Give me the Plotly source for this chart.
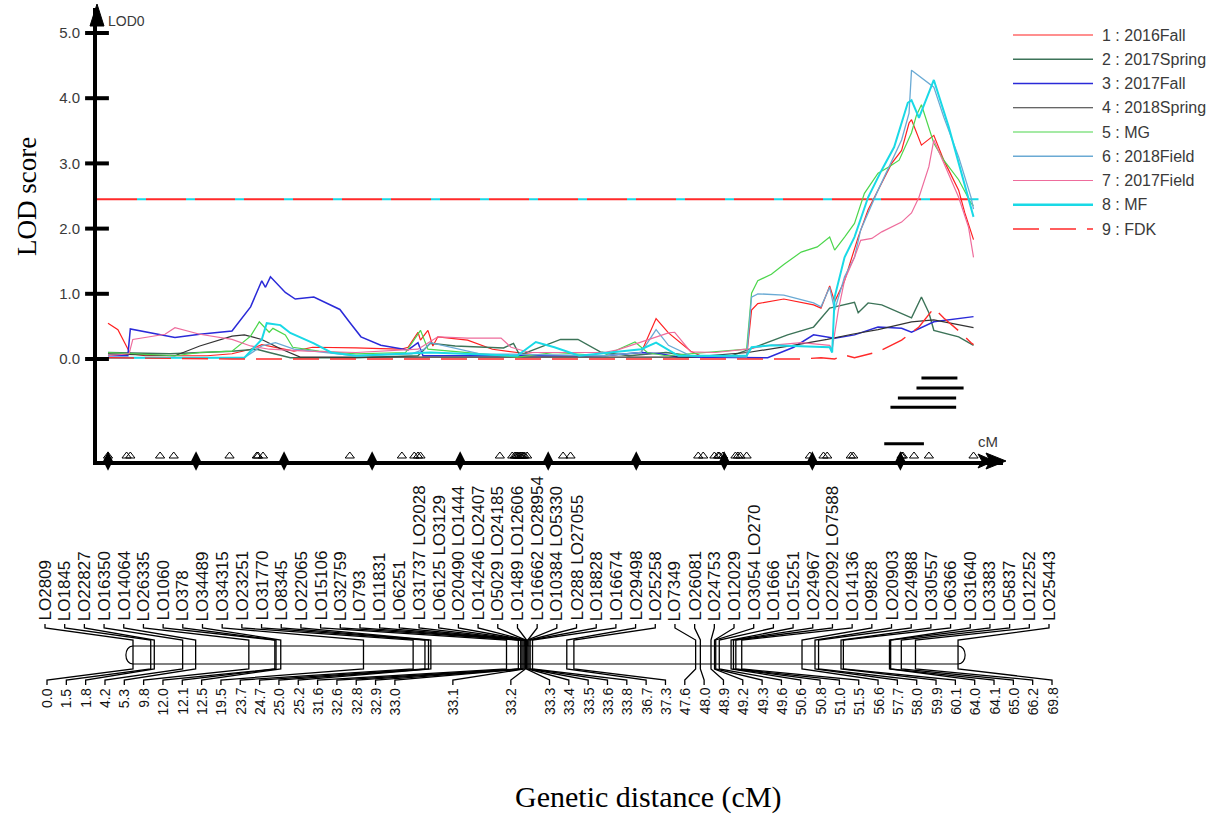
import numpy as np
import plotly.graph_objects as go

W, H = 1227, 816

# ---------------- data ----------------
S1_CM = [0, 0.8, 1.8, 3.0, 5.0, 8.0, 10.0, 11.5, 12.4, 13.5, 15.0, 16.5, 18.0, 20.0, 22.0, 23.6, 24.2, 25.0, 25.2, 25.8,
         26.2, 26.6, 29.0, 31.0, 33.0, 35.0, 40.0, 43.0, 44.2, 45.2, 47.0, 48.0, 51.5, 51.9, 52.4, 54.5, 56.9, 57.5, 58.2, 58.6,
         59.4, 60.5, 61.3, 62.4, 63.2, 64.0, 64.6, 64.8, 65.6, 66.6, 67.4, 68.6, 69.1, 69.8]
S1_LOD = [0.55, 0.45, 0.08, 0.05, 0.05, 0.05, 0.08, 0.15, 0.22, 0.18, 0.12, 0.18, 0.18, 0.17, 0.16, 0.15, 0.18, 0.41, 0.29, 0.44,
          0.2, 0.34, 0.29, 0.15, 0.1, 0.05, 0.05, 0.1, 0.62, 0.4, 0.12, 0.03, 0.03, 0.75, 0.85, 0.92, 0.83, 0.78, 1.12, 0.88,
          1.2, 1.87, 2.29, 2.70, 3.0, 3.2, 3.62, 3.67, 3.28, 3.43, 3.05, 2.59, 2.24, 1.83]

S2_CM = [0, 5, 10, 12, 13, 14.7, 20, 25, 26, 28, 31.9, 32.7, 33.2, 35.7, 36.5, 37.9, 39.7, 42, 45, 47,
         50, 51.6, 54.8, 56.9, 58.2, 60.2, 60.5, 61.3, 62.4, 64.8, 65.6, 66.2, 66.6, 68.6, 69.8]
S2_LOD = [0.1, 0.08, 0.12, 0.15, 0.1, 0.02, 0.02, 0.05, 0.24, 0.2, 0.17, 0.24, 0.06, 0.24, 0.3, 0.3, 0.11, 0.05, 0.1, 0.05,
          0.03, 0.14, 0.37, 0.49, 0.78, 0.87, 0.71, 0.86, 0.83, 0.63, 0.95, 0.71, 0.44, 0.34, 0.21]

S3_CM = [0, 1.6, 1.8, 3.0, 4.6, 5.4, 7.4, 10.0, 11.5, 12.4, 12.7, 13.1, 14.3, 15.1, 16.6, 18.7, 19.5, 20.4, 22.0, 24.2,
         25.0, 25.4, 30, 40, 43, 44.5, 46, 53.2, 55.3, 56.9, 58.6, 60.2, 62.1, 64.0, 64.8, 66.6, 69.8]
S3_LOD = [0.05, 0.05, 0.46, 0.42, 0.36, 0.33, 0.38, 0.43, 0.8, 1.2, 1.1, 1.26, 1.02, 0.92, 0.95, 0.76, 0.56, 0.34, 0.21, 0.14,
          0.25, 0.05, 0.05, 0.05, 0.1, 0.08, 0.03, 0.02, 0.18, 0.37, 0.32, 0.37, 0.49, 0.47, 0.41, 0.57, 0.65]

S4_CM = [0, 5.4, 7.4, 10.0, 11.0, 12.4, 14.0, 15.5, 25, 30, 40, 47, 51.6, 55, 58, 60, 62.1, 64.8, 66.6, 67.4, 69.6, 69.8]
S4_LOD = [0.08, 0.05, 0.2, 0.35, 0.37, 0.3, 0.15, 0.03, 0.03, 0.03, 0.03, 0.03, 0.1, 0.2, 0.3, 0.38, 0.45, 0.57, 0.6, 0.57, 0.49, 0.48]

S5_CM = [0, 2, 5.4, 7.4, 10, 11.5, 12.2, 13.0, 13.3, 14.3, 14.9, 17, 20, 24, 25.2, 25.8, 30, 33, 36, 40,
         42.5, 43.5, 45, 51.5, 51.9, 52.4, 53.5, 54.5, 55.9, 57.2, 58.2, 58.6, 59.4, 60.2, 61.0, 62.1, 63.0, 63.8, 64.8, 65.2,
         65.6, 66.6, 67.4, 68.6, 69.6, 69.8]
S5_LOD = [0.1, 0.08, 0.05, 0.1, 0.12, 0.35, 0.57, 0.41, 0.47, 0.37, 0.18, 0.12, 0.08, 0.1, 0.44, 0.15, 0.08, 0.03, 0.1, 0.05,
          0.26, 0.1, 0.05, 0.15, 1.01, 1.2, 1.3, 1.45, 1.64, 1.72, 1.87, 1.67, 1.87, 2.08, 2.54, 2.85, 2.95, 3.05, 3.47, 3.74,
          3.90, 3.31, 3.05, 2.75, 2.39, 2.35]

S6_CM = [0, 11, 12.4, 13.5, 15, 20, 24.5, 25.5, 26, 30, 40, 43, 44.2, 45.2, 47, 51.5, 51.9, 52.4, 54.5, 56.9,
         57.5, 58.2, 58.6, 59.4, 60.2, 60.7, 62.1, 63.2, 64.0, 64.6, 64.8, 66.6, 67.4, 68.6, 69.6, 69.8]
S6_LOD = [0.02, 0.02, 0.2, 0.25, 0.15, 0.05, 0.08, 0.15, 0.25, 0.08, 0.05, 0.1, 0.45, 0.21, 0.05, 0.03, 0.95, 1.0, 0.98, 0.86,
          0.8, 1.1, 0.75, 1.26, 1.56, 1.98, 2.59, 3.05, 3.36, 3.77, 4.43, 4.17, 3.71, 3.10, 2.48, 2.3]

S7_CM = [0, 1.7, 2.0, 4.6, 5.4, 7.4, 10, 11.5, 13, 16, 20, 25, 26.6, 29, 31.7, 32.5, 34, 40, 41.1, 43,
         45.2, 45.7, 47, 49, 51.5, 53, 55.9, 58.2, 58.4, 58.9, 59.4, 60.2, 60.7, 61.6, 62.4, 64.0, 64.8, 65.4, 66.2, 66.6,
         67.4, 68.6, 69.4, 69.8]
S7_LOD = [0.05, 0.08, 0.3, 0.38, 0.48, 0.38, 0.3, 0.2, 0.15, 0.12, 0.1, 0.15, 0.34, 0.32, 0.32, 0.18, 0.1, 0.1, 0.14, 0.26,
          0.4, 0.41, 0.11, 0.1, 0.15, 0.2, 0.25, 0.21, 0.15, 0.75, 1.21, 1.56, 1.82, 1.85, 1.95, 2.1, 2.24, 2.48, 2.95, 3.36,
          3.0, 2.48, 2.02, 1.56]

S8_CM = [0, 11, 12.4, 12.8, 13.9, 14.7, 16.6, 18, 20, 26, 33, 34.5, 36, 38, 43, 44.2, 46, 51.5, 51.9, 53.5,
         58.2, 58.4, 58.6, 59.4, 60.2, 61.3, 62.4, 63.4, 64.5, 64.8, 65.4, 66.6, 67.8, 68.8, 69.8]
S8_LOD = [0.02, 0.02, 0.3, 0.55, 0.52, 0.40, 0.24, 0.1, 0.05, 0.1, 0.05, 0.26, 0.18, 0.05, 0.15, 0.25, 0.05, 0.05, 0.18, 0.21,
          0.18, 0.1, 0.95, 1.56, 1.87, 2.48, 2.9, 3.25, 3.93, 3.97, 3.70, 4.28, 3.56, 2.85, 2.18]

S9_CM = [0, 10, 20, 30, 40, 50, 55.9, 57.5, 58.6, 59.4, 60.2, 62.1, 64.0, 65.4, 66.6, 67.4, 68.8, 69.6, 69.8]
S9_LOD = [0.02, 0.0, 0.0, 0.0, 0.0, 0.0, 0.0, 0.02, 0.0, 0.06, 0.02, 0.11, 0.29, 0.49, 0.78, 0.63, 0.40, 0.25, 0.22]

SERIES_NAMES = ["1 : 2016Fall", "2 : 2017Spring", "3 : 2017Fall", "4 : 2018Spring", "5 : MG",
                "6 : 2018Field", "7 : 2017Field", "8 : MF", "9 : FDK"]

THRESHOLD = 2.45
CI_START = [65.6, 65.2, 63.7, 63.1, 62.6]
CI_END = [68.5, 69.0, 68.4, 68.4, 65.8]

MARKER_NAMES = ["LO2809", "LO1845", "LO22827", "LO16350", "LO14064", "LO26335", "LO1060", "LO378", "LO34489",
                "LO34315", "LO23251", "LO31770", "LO8345", "LO22065", "LO15106", "LO32759", "LO793", "LO11831",
                "LO6251", "LO31737 LO2028", "LO6125 LO3129", "LO20490 LO1444", "LO14246 LO2407", "LO5029 LO24185",
                "LO1489 LO12606", "LO16662 LO28954", "LO10384 LO5330", "LO288 LO27055", "LO18828", "LO16674",
                "LO29498", "LO25258", "LO7349", "LO26081", "LO24753", "LO12029", "LO3054 LO270", "LO1666",
                "LO15251", "LO24967", "LO22092 LO7588", "LO14136", "LO9828", "LO20903", "LO24988", "LO30557",
                "LO6366", "LO31640", "LO3383", "LO5837", "LO12252", "LO25443"]
MARKER_CM = [0.0, 1.5, 1.8, 4.2, 5.3, 9.8, 12.0, 12.1, 12.5, 19.5, 23.7, 24.7, 25.0, 25.2, 31.6, 32.6, 32.8, 32.9,
             33.0, 33.1, 33.2, 33.2, 33.2, 33.2, 33.3, 33.4, 33.4, 33.5, 33.6, 33.8, 36.7, 37.3, 47.6, 48.0, 48.9,
             49.2, 49.3, 49.6, 50.6, 50.8, 51.0, 51.5, 56.6, 57.7, 58.0, 59.9, 60.1, 64.0, 64.1, 65.0, 66.2, 69.8]
POS_CM = [0.0, 1.5, 1.8, 4.2, 5.3, 9.8, 12.0, 12.1, 12.5, 19.5, 23.7, 24.7, 25.0, 25.2, 31.6, 32.6, 32.8, 32.9, 33.0,
          33.1, 33.2, 33.3, 33.4, 33.5, 33.6, 33.8, 36.7, 37.3, 47.6, 48.0, 48.9, 49.2, 49.3, 49.6, 50.6, 50.8, 51.0,
          51.5, 56.6, 57.7, 58.0, 59.9, 60.1, 64.0, 64.1, 65.0, 66.2, 69.8]

# ---------------- styles / layout constants ----------------
COLORS = ["#ff2020", "#3c7358", "#2a2ad8", "#333333", "#4cd64c", "#6aaad4", "#ee6c9c", "#19d9e6", "#ff2a2a"]
WIDTHS = [1.2, 1.4, 1.5, 1.2, 1.2, 1.3, 1.2, 2.0, 1.4]
DASHES = ["solid"] * 8 + ["26px,11px"]
TXT = "#3a3a3a"
SANS = "Liberation Sans, Arial, sans-serif"
SERIF = "Liberation Serif, Times New Roman, serif"

# pixel geometry of the LOD panel
AX_L, AX_R, AX_B, AX_T = 97, 1003, 461, 8
CM0_PX, PX_PER_CM = 108, 12.4
LOD0_PX, PX_PER_LOD = 359, 65.2
X_RANGE = [(AX_L - CM0_PX) / PX_PER_CM, (AX_R - CM0_PX) / PX_PER_CM]
Y_RANGE = [(LOD0_PX - AX_B) / PX_PER_LOD, (LOD0_PX - AX_T) / PX_PER_LOD]

# genetic map geometry
CHR_CM0_PX, CHR_PX_PER_CM = 133, 11.82
CHR_TOP, CHR_BOT = 646, 664


def px2chr(p):
    return (np.asarray(p, dtype=float) - CHR_CM0_PX) / CHR_PX_PER_CM


fig = go.Figure()

SERIES = [(S1_CM, S1_LOD), (S2_CM, S2_LOD), (S3_CM, S3_LOD), (S4_CM, S4_LOD), (S5_CM, S5_LOD),
          (S6_CM, S6_LOD), (S7_CM, S7_LOD), (S8_CM, S8_LOD), (S9_CM, S9_LOD)]

# threshold line: red long dashes with cyan pieces in the gaps
thr_x = [X_RANGE[0], 70.2]
fig.add_trace(go.Scatter(x=thr_x, y=[THRESHOLD, THRESHOLD], mode="lines",
                         line=dict(color="#19d9e6", width=2, dash="0px,40px,9px,0px"), hoverinfo="skip"))
fig.add_trace(go.Scatter(x=thr_x, y=[THRESHOLD, THRESHOLD], mode="lines",
                         line=dict(color="#ff2a2a", width=2, dash="40px,9px"), hoverinfo="skip"))

for i, (cm, lod) in enumerate(SERIES):
    fig.add_trace(go.Scatter(x=cm, y=lod, mode="lines", name=SERIES_NAMES[i],
                             line=dict(color=COLORS[i], width=WIDTHS[i], dash=DASHES[i]), hoverinfo="skip"))

# support intervals
CI_LEVELS = [-0.29, -0.445, -0.60, -0.74, -1.30]
for s, e, lv in zip(CI_START, CI_END, CI_LEVELS):
    fig.add_trace(go.Scatter(x=[s, e], y=[lv, lv], mode="lines", line=dict(color="black", width=3),
                             hoverinfo="skip"))

# y ticks (short bars across the axis)
fig.add_trace(go.Scatter(x=[X_RANGE[0]] * 6, y=[0, 1, 2, 3, 4, 5], mode="markers", cliponaxis=False,
                         marker=dict(symbol="line-ew", size=17, line=dict(width=4, color="black")),
                         hoverinfo="skip"))
# marker triangles on x axis
fig.add_trace(go.Scatter(x=POS_CM, y=[(LOD0_PX - 456) / PX_PER_LOD] * len(POS_CM), mode="markers",
                         cliponaxis=False,
                         marker=dict(symbol="triangle-up-open", size=8, color="black", line=dict(width=1)),
                         hoverinfo="skip"))
# diamond ticks on x axis
fig.add_trace(go.Scatter(x=list(np.arange(10) * 7.1), y=[Y_RANGE[0]] * 10, mode="markers", cliponaxis=False,
                         marker=dict(symbol="diamond-tall", size=14, color="black"), hoverinfo="skip"))

# ---------------- genetic map ----------------
name_slots = px2chr(np.linspace(45, 1049, len(MARKER_NAMES)))
gaps = {18: 3, 19: 3, 20: 2}
units = [0]
for i in range(len(POS_CM) - 1):
    units.append(units[-1] + gaps.get(i, 1))
units = np.array(units, dtype=float)
pos_slots = px2chr(47 + units * (1052 - 47) / units[-1])

cx, cy = [], []
for sl, m in zip(name_slots, MARKER_CM):
    cx += [sl, sl, m, m, None]
    cy += [624, 628, 640, CHR_TOP, None]
for sl, m in zip(pos_slots, POS_CM):
    cx += [m, m, sl, sl, None]
    cy += [CHR_BOT, 669, 680, 685, None]
fig.add_trace(go.Scatter(x=cx, y=cy, mode="lines", line=dict(color="black", width=1.3), xaxis="x2", yaxis="y2",
                         hoverinfo="skip"))
bx, by = [], []
for m in POS_CM:
    bx += [m, m, None]
    by += [CHR_TOP, CHR_BOT, None]
fig.add_trace(go.Scatter(x=bx, y=by, mode="lines", line=dict(color="black", width=1.3), xaxis="x2", yaxis="y2",
                         hoverinfo="skip"))

c0, c1, cap = POS_CM[0], POS_CM[-1], 0.8
chr_path = (f"M {c0},{CHR_TOP} L {c1},{CHR_TOP} C {c1 + cap},{CHR_TOP} {c1 + cap},{CHR_BOT} {c1},{CHR_BOT} "
            f"L {c0},{CHR_BOT} C {c0 - cap},{CHR_BOT} {c0 - cap},{CHR_TOP} {c0},{CHR_TOP} Z")
shapes = [dict(type="path", path=chr_path, xref="x2", yref="y2", line=dict(color="black", width=1.2))]

annotations = []
for sl, nm in zip(name_slots, MARKER_NAMES):
    annotations.append(dict(x=sl, y=623, xref="x2", yref="y2", text=nm, textangle=-90, showarrow=False,
                            xanchor="center", yanchor="bottom", font=dict(family=SANS, size=17, color="#111")))
for sl, p in zip(pos_slots, POS_CM):
    annotations.append(dict(x=sl, y=686, xref="x2", yref="y2", text=f"{p:.1f}", textangle=-90, showarrow=False,
                            xanchor="center", yanchor="top", font=dict(family=SANS, size=14, color="#111")))

# ---------------- legend (drawn on pixel overlay axes) ----------------
for i in range(9):
    ly = 35 + i * 24.25
    fig.add_trace(go.Scatter(x=[1013, 1093], y=[ly, ly], mode="lines", xaxis="x3", yaxis="y3",
                             line=dict(color=COLORS[i], width=WIDTHS[i] if i != 7 else 2.5, dash=DASHES[i]),
                             hoverinfo="skip"))
    annotations.append(dict(x=1100, y=ly, xref="x3", yref="y3", text=SERIES_NAMES[i], showarrow=False,
                            xanchor="left", yanchor="middle", font=dict(family=SANS, size=16, color=TXT)))

# axis arrow heads
shapes.append(dict(type="path", xref="x3", yref="y3", path="M 97,4 L 90,26 L 104,26 Z",
                   fillcolor="black", line=dict(color="black", width=1)))
shapes.append(dict(type="path", xref="x3", yref="y3", path="M 1006,461 L 986,453 L 990,461 L 986,469 Z",
                   fillcolor="black", line=dict(color="black", width=1)))
shapes.append(dict(type="path", xref="x3", yref="y3", path="M 994,461 L 978,454 L 982,461 L 978,468 Z",
                   fillcolor="black", line=dict(color="black", width=1)))

annotations += [
    dict(x=106, y=21, xref="x3", yref="y3", text="LOD0", showarrow=False, xanchor="left", yanchor="middle",
         font=dict(family=SANS, size=14, color=TXT)),
    dict(x=988, y=441, xref="x3", yref="y3", text="cM", showarrow=False, xanchor="center", yanchor="middle",
         font=dict(family=SANS, size=15, color=TXT)),
    dict(x=27, y=197, xref="x3", yref="y3", text="LOD score", textangle=-90, showarrow=False,
         xanchor="center", yanchor="middle", font=dict(family=SERIF, size=27, color="black")),
    dict(x=648, y=797, xref="x3", yref="y3", text="Genetic distance (cM)", showarrow=False,
         xanchor="center", yanchor="middle", font=dict(family=SERIF, size=30, color="black")),
]

hidden = dict(visible=False, showgrid=False, zeroline=False, fixedrange=True)
fig.update_layout(
    width=W, height=H, margin=dict(l=0, r=0, t=0, b=0),
    paper_bgcolor="white", plot_bgcolor="rgba(0,0,0,0)", showlegend=False,
    xaxis=dict(domain=[AX_L / W, AX_R / W], range=X_RANGE, anchor="y", showline=True, linewidth=4,
               linecolor="black", showgrid=False, zeroline=False, showticklabels=False, ticks="",
               fixedrange=True),
    yaxis=dict(domain=[1 - AX_B / H, 1 - AX_T / H], range=Y_RANGE, anchor="x", showline=True, linewidth=4,
               linecolor="black", showgrid=False, zeroline=False, ticks="",
               tickvals=[0, 1, 2, 3, 4, 5], ticktext=["0.0", "1.0", "2.0", "3.0", "4.0", "5.0"],
               tickfont=dict(family=SANS, size=15, color=TXT), ticklabelstandoff=10, fixedrange=True),
    xaxis2=dict(domain=[0, 1], range=[px2chr(0), px2chr(W)], anchor="y2", **hidden),
    yaxis2=dict(domain=[0, 1], range=[H, 0], anchor="x2", **hidden),
    xaxis3=dict(domain=[0, 1], range=[0, W], anchor="y3", **hidden),
    yaxis3=dict(domain=[0, 1], range=[H, 0], anchor="x3", **hidden),
    shapes=shapes, annotations=annotations,
)

fig.write_html("out.html")
